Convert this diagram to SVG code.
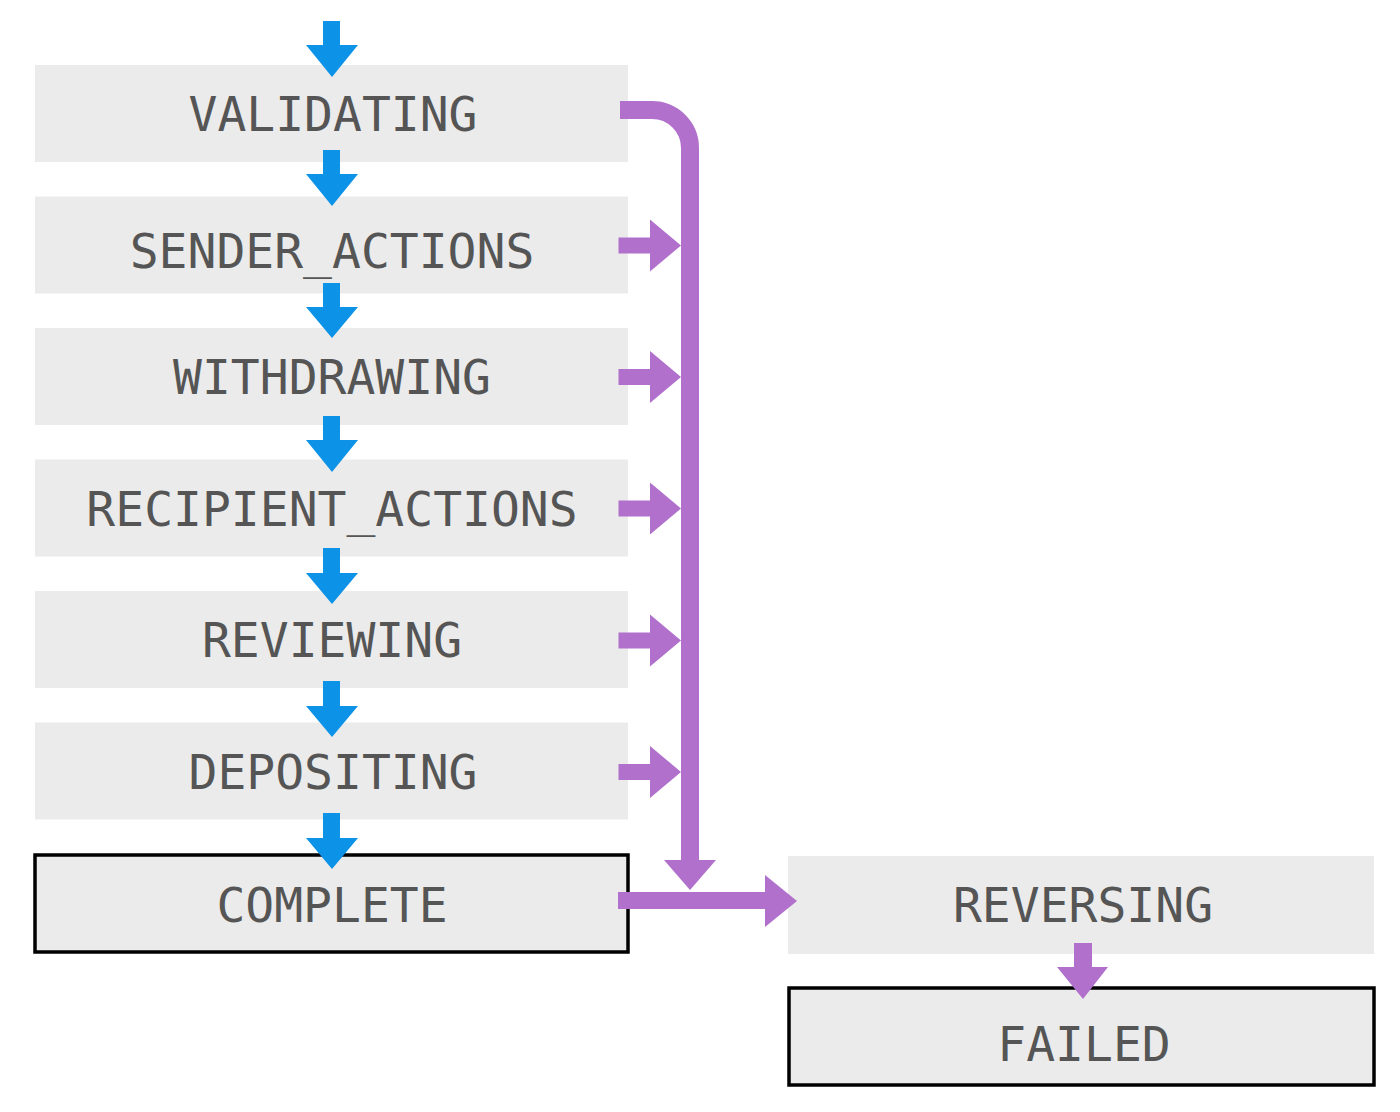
<svg xmlns="http://www.w3.org/2000/svg" width="1400" height="1112" viewBox="0 0 1400 1112">
<style>
.box{fill:#ebebeb}
.term{fill:#ebebeb;stroke:#000;stroke-width:3.5}
.lbl{font-family:"DejaVu Sans Mono","Liberation Mono",monospace;font-size:48px;fill:#555;text-anchor:middle}
.blue{fill:#0c93e8}
.purple{fill:#b070cc}
.pline{fill:none;stroke:#b070cc;stroke-width:18}
</style>
<rect width="1400" height="1112" fill="#fff"/>
<g id="n-validating"><rect class="box" x="35" y="65" width="593" height="97"/><text class="lbl" x="333" y="130.5">VALIDATING</text></g>
<g id="n-sender"><rect class="box" x="35" y="196.5" width="593" height="97"/><text class="lbl" x="332" y="268">SENDER_ACTIONS</text></g>
<g id="n-withdrawing"><rect class="box" x="35" y="328" width="593" height="97"/><text class="lbl" x="332" y="394">WITHDRAWING</text></g>
<g id="n-recipient"><rect class="box" x="35" y="459.5" width="593" height="97"/><text class="lbl" x="332" y="526">RECIPIENT_ACTIONS</text></g>
<g id="n-reviewing"><rect class="box" x="35" y="591" width="593" height="97"/><text class="lbl" x="332" y="657">REVIEWING</text></g>
<g id="n-depositing"><rect class="box" x="35" y="722.5" width="593" height="97"/><text class="lbl" x="333" y="789">DEPOSITING</text></g>
<g id="n-complete"><rect class="term" x="35" y="855" width="593" height="97"/><text class="lbl" x="332" y="921.5">COMPLETE</text></g>
<g id="n-reversing"><rect class="box" x="788" y="856" width="586" height="98"/><text class="lbl" x="1083" y="922">REVERSING</text></g>
<g id="n-failed"><rect class="term" x="789" y="988" width="585" height="97"/><text class="lbl" x="1084" y="1061">FAILED</text></g>
<g id="connectors">
<polygon class="blue" points="323,21 340,21 340,45 358,45 332,77 306,45 323,45"/>
<polygon class="blue" points="323,150 340,150 340,174 358,174 332,206 306,174 323,174"/>
<polygon class="blue" points="323,283 340,283 340,307 358,307 332,338 306,307 323,307"/>
<polygon class="blue" points="323,416 340,416 340,440 358,440 332,472 306,440 323,440"/>
<polygon class="blue" points="323,548 340,548 340,573 358,573 332,604 306,573 323,573"/>
<polygon class="blue" points="323,681 340,681 340,706 358,706 332,737 306,706 323,706"/>
<polygon class="blue" points="323,813 340,813 340,838 358,838 332,869 306,838 323,838"/>
<path class="pline" d="M620,110 H652 A38,38 0 0 1 690,148 V861"/>
<polygon class="purple" points="664,860 716,860 690,890"/>
<polygon class="purple" points="618.5,237.5 650,237.5 650,219.5 681,245.5 650,271.5 650,253.5 618.5,253.5"/>
<polygon class="purple" points="618.5,369 650,369 650,351 681,377 650,403 650,385 618.5,385"/>
<polygon class="purple" points="618.5,500.5 650,500.5 650,482.5 681,508.5 650,534.5 650,516.5 618.5,516.5"/>
<polygon class="purple" points="618.5,632.5 650,632.5 650,614.5 681,640.5 650,666.5 650,648.5 618.5,648.5"/>
<polygon class="purple" points="618.5,764 650,764 650,746 681,772 650,798 650,780 618.5,780"/>
<polygon class="purple" points="618,892 765,892 765,875 797,901 765,927 765,909 618,909"/>
<polygon class="purple" points="1074,943 1092,943 1092,967 1108,967 1083,999 1057,967 1074,967"/>
</g>
</svg>
